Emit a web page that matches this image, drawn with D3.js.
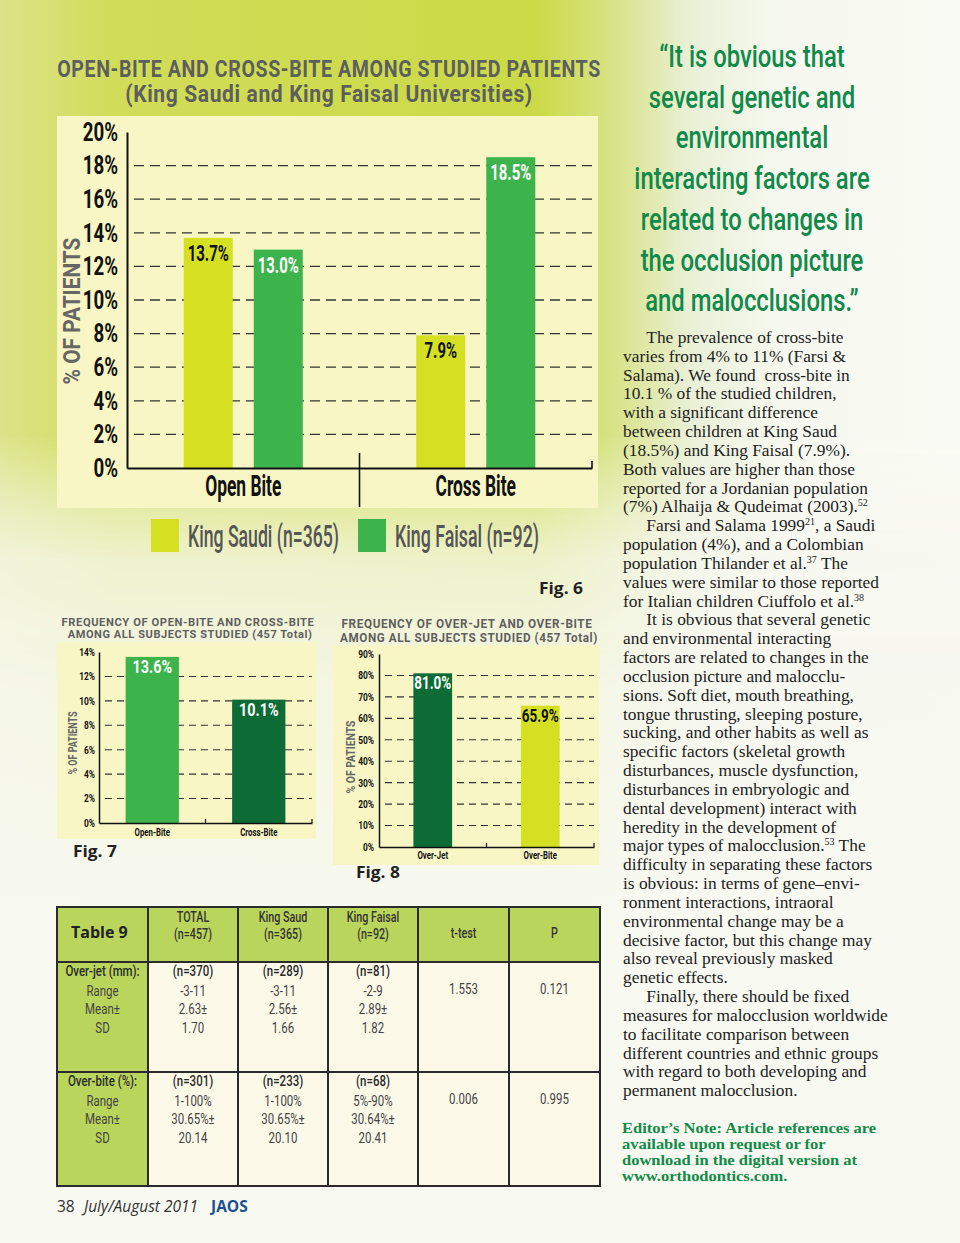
<!DOCTYPE html>
<html>
<head>
<meta charset="utf-8">
<script src="https://cdn.jsdelivr.net/npm/d3@7"></script>
<style>
  html, body { margin: 0; padding: 0; background: #fafbf6; }
  svg { display: block; }
</style>
</head>
<body>
<div id="page"></div>
<script>
// ---- data ----
const fig6Groups = ["Open Bite", "Cross Bite"];
const fig6Series = ["King Saudi (n=365)", "King Faisal (n=92)"];
const fig6KingSaudi = [13.7, 7.9];
const fig6KingFaisal = [13.0, 18.5];
const fig6Ticks = [0, 2, 4, 6, 8, 10, 12, 14, 16, 18, 20];

const fig7Categories = ["Open-Bite", "Cross-Bite"];
const fig7Values = [13.6, 10.1];
const fig7Ticks = [0, 2, 4, 6, 8, 10, 12, 14];

const fig8Categories = ["Over-Jet", "Over-Bite"];
const fig8Values = [81.0, 65.9];
const fig8Ticks = [0, 10, 20, 30, 40, 50, 60, 70, 80, 90];

const tableHeader = [["Table 9"], ["TOTAL", "(n=457)"], ["King Saud", "(n=365)"], ["King Faisal", "(n=92)"], ["t-test"], ["P"]];
const tableRowLabels = [["Over-jet (mm):", "Range", "Mean±", "SD"], ["Over-bite (%):", "Range", "Mean±", "SD"]];
const tableTotal = [["(n=370)", "-3-11", "2.63±", "1.70"], ["(n=301)", "1-100%", "30.65%±", "20.14"]];
const tableKingSaud = [["(n=289)", "-3-11", "2.56±", "1.66"], ["(n=233)", "1-100%", "30.65%±", "20.10"]];
const tableKingFaisal = [["(n=81)", "-2-9", "2.89±", "1.82"], ["(n=68)", "5%-90%", "30.64%±", "20.41"]];
const tableTTest = ["1.553", "0.006"];
const tableP = ["0.121", "0.995"];

const quoteLines = ["\u201cIt is obvious that", "several genetic and", "environmental", "interacting factors are",
  "related to changes in", "the occlusion picture", "and malocclusions.\u201d"];

// [text, indented]  ^..^ marks a superscript
const bodyLines = [
  ["The prevalence of cross-bite", 1], ["varies from 4% to 11% (Farsi &", 0], ["Salama). We found\u00a0 cross-bite in", 0],
  ["10.1 % of the studied children,", 0], ["with a significant difference", 0], ["between children at King Saud", 0],
  ["(18.5%) and King Faisal (7.9%).", 0], ["Both values are higher than those", 0], ["reported for a Jordanian population", 0],
  ["(7%) Alhaija & Qudeimat (2003).^52^", 0], ["Farsi and Salama 1999^21^, a Saudi", 1], ["population (4%), and a Colombian", 0],
  ["population Thilander et al.^37^ The", 0], ["values were similar to those reported", 0], ["for Italian children Ciuffolo et al.^38^", 0],
  ["It is obvious that several genetic", 1], ["and environmental interacting", 0], ["factors are related to changes in the", 0],
  ["occlusion picture and malocclu-", 0], ["sions. Soft diet, mouth breathing,", 0], ["tongue thrusting, sleeping posture,", 0],
  ["sucking, and other habits as well as", 0], ["specific factors (skeletal growth", 0], ["disturbances, muscle dysfunction,", 0],
  ["disturbances in embryologic and", 0], ["dental development) interact with", 0], ["heredity in the development of", 0],
  ["major types of malocclusion.^53^ The", 0], ["difficulty in separating these factors", 0], ["is obvious: in terms of gene\u2013envi-", 0],
  ["ronment interactions, intraoral", 0], ["environmental change may be a", 0], ["decisive factor, but this change may", 0],
  ["also reveal previously masked", 0], ["genetic effects.", 0], ["Finally, there should be fixed", 1],
  ["measures for malocclusion worldwide", 0], ["to facilitate comparison between", 0], ["different countries and ethnic groups", 0],
  ["with regard to both developing and", 0], ["permanent malocclusion.", 0]
];
const noteLines = ["Editor\u2019s Note: Article references are", "available upon request or for",
  "download in the digital version at", "www.orthodontics.com."];

// ---- styling ----
const YELLOW = "#d5e023", GREEN = "#3cb44b", DARK = "#0d6b36", PANEL = "#f8f6c4";
const GOTH = "Roboto, 'Liberation Sans', sans-serif";
const SERIF = "'Liberation Serif', 'DejaVu Serif', serif";
const SANS = "'Open Sans', 'Noto Sans', sans-serif";

const svg = d3.select("#page").append("svg").attr("width", 960).attr("height", 1243);

// page background: yellow-green wash across the top-left, fading right and down
const defs = svg.append("defs");
const wash = defs.append("linearGradient").attr("id", "wash")
  .attr("gradientUnits", "userSpaceOnUse").attr("x1", 0).attr("y1", 0).attr("x2", 960).attr("y2", 0);
[[0, "#dce38a"], [0.12, "#d1dc58"], [0.56, "#cbda46"], [0.64, "#d8e387"], [0.72, "#eaf0d8"], [0.82, "#f7f9f0"], [1, "#f9faf3"]]
  .forEach(s => wash.append("stop").attr("offset", s[0]).attr("stop-color", s[1]));
const fade = defs.append("linearGradient").attr("id", "fade")
  .attr("gradientUnits", "userSpaceOnUse").attr("x1", 0).attr("y1", 0).attr("x2", 0).attr("y2", 1243);
[[0, "#fff"], [0.35, "#fff"], [0.41, "#7a7a7a"], [0.45, "#3a3a3a"], [0.55, "#161616"], [0.75, "#000"]]
  .forEach(s => fade.append("stop").attr("offset", s[0]).attr("stop-color", s[1]));
defs.append("mask").attr("id", "fadeMask").append("rect")
  .attr("width", 960).attr("height", 1243).attr("fill", "url(#fade)");
svg.append("rect").attr("width", 960).attr("height", 1243).attr("fill", "#f8f9f1");
svg.append("rect").attr("width", 960).attr("height", 1243).attr("fill", "url(#wash)").attr("mask", "url(#fadeMask)");

// condensed text: a normal face squeezed horizontally
function gtext(parent, str, x, y, o = {}) {
  const t = parent.append("text")
    .attr("text-anchor", o.anchor || "start")
    .attr("font-family", o.family || GOTH)
    .attr("font-size", o.size || 14)
    .attr("font-weight", o.weight || 700)
    .attr("font-style", o.italic ? "italic" : null)
    .attr("letter-spacing", o.ls || null)
    .attr("fill", o.fill || "#111")
    .text(str);
  let sx = o.sx || 1;
  if (o.width) sx = o.width / t.node().getComputedTextLength();
  t.attr("transform", `translate(${x},${y})` + (o.rotate ? ` rotate(${o.rotate})` : "") + ` scale(${sx},1)`);
  return t;
}

function styleAxisText(axisG, size, sx, pad) {
  axisG.attr("font-family", null).attr("font-size", null);
  axisG.selectAll("text")
    .attr("font-family", GOTH).attr("font-size", size).attr("font-weight", 700).attr("fill", "#111")
    .attr("x", -pad / sx).attr("transform", `scale(${sx},1)`);
}

// ================= Fig. 6 =================
const f6 = svg.append("g");
gtext(f6, "OPEN-BITE AND CROSS-BITE AMONG STUDIED PATIENTS", 329, 77, { anchor: "middle", size: 23, fill: "#5e5e5e", width: 544, ls: "0.03em" });
gtext(f6, "(King Saudi and King Faisal Universities)", 329, 102, { anchor: "middle", size: 23, fill: "#5e5e5e", width: 408, ls: "0.03em" });
f6.append("rect").attr("x", 57).attr("y", 116).attr("width", 541).attr("height", 392).attr("fill", PANEL);

const y6 = d3.scaleLinear().domain([0, 20]).range([468, 132]);
const x6 = d3.scaleBand().domain(fig6Groups).range([127, 592]);
const x6s = d3.scaleBand().domain(fig6Series).range([0, x6.bandwidth()]).paddingInner(0.3).paddingOuter(0.81);
const color6 = d3.scaleOrdinal().domain(fig6Series).range([YELLOW, GREEN]);
const ink6 = d3.scaleOrdinal().domain(fig6Series).range(["#111", "#fff"]);

f6.selectAll("line.grid").data(fig6Ticks.filter(d => d > 0 && d < 20)).join("line")
  .attr("class", "grid").attr("x1", 134).attr("x2", 592)
  .attr("y1", d => y6(d)).attr("y2", d => y6(d))
  .attr("stroke", "#333").attr("stroke-width", 1.3).attr("stroke-dasharray", "10,6");

const rows6 = fig6Groups.map((g, i) => ({ group: g, values: [
  { series: fig6Series[0], value: fig6KingSaudi[i] },
  { series: fig6Series[1], value: fig6KingFaisal[i] }] }));

const grp6 = f6.selectAll("g.grp").data(rows6).join("g")
  .attr("class", "grp").attr("transform", d => `translate(${x6(d.group)},0)`);
grp6.selectAll("rect").data(d => d.values).join("rect")
  .attr("x", d => x6s(d.series)).attr("width", x6s.bandwidth())
  .attr("y", d => y6(d.value)).attr("height", d => y6(0) - y6(d.value))
  .attr("fill", d => color6(d.series));
grp6.each(function (row) {
  const g = d3.select(this);
  row.values.forEach(d => gtext(g, d3.format(".1f")(d.value) + "%", x6s(d.series) + x6s.bandwidth() / 2, y6(d.value) + 23,
    { anchor: "middle", size: 22, sx: 0.68, fill: ink6(d.series) }));
});

const yAx6 = f6.append("g").attr("transform", "translate(127,0)")
  .call(d3.axisLeft(y6).tickValues(fig6Ticks).tickFormat(d => d + "%").tickSize(0).tickSizeOuter(0));
yAx6.select(".domain").attr("stroke", "#111").attr("stroke-width", 2);
styleAxisText(yAx6, 26, 0.72, 9);

const xAx6 = f6.append("g").attr("transform", "translate(0,468)")
  .call(d3.axisBottom(x6).tickSize(0).tickSizeOuter(0));
xAx6.select(".domain").attr("stroke", "#111").attr("stroke-width", 2);
xAx6.attr("font-family", null).attr("font-size", null);
xAx6.selectAll("text").attr("y", 0).attr("dy", null)
  .attr("font-family", GOTH).attr("font-size", 29).attr("font-weight", 700).attr("fill", "#111")
  .attr("transform", "translate(0,28) scale(0.6,1)");
xAx6.append("line").attr("x1", x6(fig6Groups[1])).attr("x2", x6(fig6Groups[1]))
  .attr("y1", -15).attr("y2", 39).attr("stroke", "#111").attr("stroke-width", 1.6);
xAx6.append("line").attr("x1", x6.range()[1]).attr("x2", x6.range()[1])
  .attr("y1", -7).attr("y2", 0).attr("stroke", "#111").attr("stroke-width", 1.6);

gtext(f6, "% OF PATIENTS", 80, 311, { anchor: "middle", size: 24, fill: "#666", rotate: -90, width: 147 });

// legend
const leg6 = f6.selectAll("g.leg").data(fig6Series).join("g").attr("class", "leg")
  .attr("transform", (d, i) => `translate(${[151, 358][i]},519)`);
leg6.append("rect").attr("width", 28).attr("height", 33).attr("fill", d => color6(d));
leg6.each(function (d, i) {
  gtext(d3.select(this), d, 37, 28, { size: 31, weight: 500, fill: "#555", width: [151, 144][i] });
});
gtext(f6, "Fig. 6", 583, 594, { anchor: "end", family: SANS, size: 15.5, fill: "#222", width: 44 });

// ================= Fig. 7 / Fig. 8 =================
function smallChart(c) {
  const g = svg.append("g");
  c.title.forEach(t => gtext(g, t[0], t[1], t[2], { anchor: "middle", size: c.titleSize, fill: "#5f5f5f", width: t[3], ls: "0.05em" }));
  g.append("rect").attr("x", c.panel[0]).attr("y", c.panel[1]).attr("width", c.panel[2]).attr("height", c.panel[3]).attr("fill", PANEL);

  const top = d3.max(c.ticks);
  const y = d3.scaleLinear().domain([0, top]).range([c.yBottom, c.yTop]);
  const x = d3.scaleBand().domain(c.cats).range([c.xLeft, c.xRight]).paddingInner(c.padInner).paddingOuter(c.padOuter);

  g.selectAll("line.grid").data(c.ticks.filter(d => d > 0 && d < top)).join("line")
    .attr("class", "grid").attr("x1", c.xLeft + 6).attr("x2", c.xRight)
    .attr("y1", d => y(d)).attr("y2", d => y(d))
    .attr("stroke", "#333").attr("stroke-width", 1.1).attr("stroke-dasharray", "7,5");

  g.selectAll("rect.bar").data(c.vals).join("rect").attr("class", "bar")
    .attr("x", (d, i) => x(c.cats[i])).attr("width", x.bandwidth())
    .attr("y", d => y(d)).attr("height", d => y(0) - y(d))
    .attr("fill", (d, i) => c.colors[i]);
  c.vals.forEach((d, i) => gtext(g, d3.format(".1f")(d) + "%", x(c.cats[i]) + x.bandwidth() / 2, y(d) + 16,
    { anchor: "middle", size: 18, sx: c.valSx, fill: c.ink[i] }));

  const yAx = g.append("g").attr("transform", `translate(${c.xLeft},0)`)
    .call(d3.axisLeft(y).tickValues(c.ticks).tickFormat(d => d + "%").tickSize(0).tickSizeOuter(0));
  yAx.select(".domain").attr("stroke", "#111").attr("stroke-width", 1.5);
  styleAxisText(yAx, 10.5, 0.8, c.tickPad);

  const xAx = g.append("g").attr("transform", `translate(0,${c.yBottom})`)
    .call(d3.axisBottom(x).tickSize(0).tickSizeOuter(0));
  xAx.select(".domain").attr("stroke", "#111").attr("stroke-width", 1.5);
  xAx.attr("font-family", null).attr("font-size", null);
  xAx.selectAll("text").attr("y", 0).attr("dy", null)
    .attr("font-family", GOTH).attr("font-size", 10).attr("font-weight", 700).attr("fill", "#111")
    .attr("transform", `translate(0,${c.labelDy}) scale(0.78,1)`);
  const mid = x(c.cats[1]) - x.step() * c.padInner / 2;
  [mid, c.xRight].forEach(px => xAx.append("line").attr("x1", px).attr("x2", px)
    .attr("y1", -4).attr("y2", 0).attr("stroke", "#111").attr("stroke-width", 1.2));

  gtext(g, "% OF PATIENTS", c.yLabel[0], c.yLabel[1], { anchor: "middle", size: 12.5, fill: "#666", rotate: -90, width: c.yLabel[2] });
  gtext(g, c.fig[0], c.fig[1], c.fig[2], { family: SANS, size: 15.5, fill: "#222", width: 44 });
}

smallChart({
  cats: fig7Categories, vals: fig7Values, ticks: fig7Ticks, colors: [GREEN, DARK], ink: ["#fff", "#fff"],
  title: [["FREQUENCY OF OPEN-BITE AND CROSS-BITE", 188, 625.5, 253], ["AMONG ALL SUBJECTS STUDIED (457 Total)", 190, 638, 245]],
  titleSize: 10.5,
  panel: [57, 642, 259, 197], xLeft: 99, xRight: 312, yTop: 652, yBottom: 823, padInner: 0.5, padOuter: 0.25,
  valSx: 0.8, tickPad: 4, labelDy: 13, yLabel: [77, 743, 63], fig: ["Fig. 7", 73, 857]
});
smallChart({
  cats: fig8Categories, vals: fig8Values, ticks: fig8Ticks, colors: [DARK, YELLOW], ink: ["#fff", "#111"],
  title: [["FREQUENCY OF OVER-JET AND OVER-BITE", 467, 628, 251], ["AMONG ALL SUBJECTS STUDIED (457 Total)", 469, 642, 258]],
  titleSize: 12,
  panel: [333, 645, 266, 220], xLeft: 379, xRight: 594, yTop: 654, yBottom: 847, padInner: 0.64, padOuter: 0.32,
  valSx: 0.75, tickPad: 5, labelDy: 12, yLabel: [355, 757, 73], fig: ["Fig. 8", 356, 878]
});

// ================= Table 9 =================
const tab = svg.append("g");
const colX = [57, 148, 238, 328, 418, 509, 600];
const rowY = [907, 962, 1072, 1186];
const HEAD = "#bad55b", CELL = "#fcf9e9";
for (let r = 0; r < 3; r++) {
  for (let c = 0; c < 6; c++) {
    tab.append("rect").attr("x", colX[c]).attr("y", rowY[r])
      .attr("width", colX[c + 1] - colX[c]).attr("height", rowY[r + 1] - rowY[r])
      .attr("fill", r === 0 || c === 0 ? HEAD : CELL).attr("stroke", "#2b2b2b").attr("stroke-width", 2);
  }
}
const cx = c => (colX[c] + colX[c + 1]) / 2;
gtext(tab, tableHeader[0][0], 71, 938, { family: SANS, size: 16, fill: "#222", sx: 1 });
tableHeader.slice(1).forEach((h, i) => {
  if (h.length === 2) {
    gtext(tab, h[0], cx(i + 1), 922, { anchor: "middle", size: 14.5, weight: 500, fill: "#333", sx: 0.74 });
    gtext(tab, h[1], cx(i + 1), 939, { anchor: "middle", size: 14.5, weight: 500, fill: "#333", sx: 0.74 });
  } else {
    gtext(tab, h[0], cx(i + 1), 938, { anchor: "middle", size: 14.5, weight: 500, fill: "#333", sx: 0.74 });
  }
});
const lineOff = [14, 34, 52, 71];
const cols = [tableRowLabels, tableTotal, tableKingSaud, tableKingFaisal];
[0, 1].forEach(r => {
  const top = rowY[r + 1];
  cols.forEach((col, c) => {
    col[r].forEach((s, k) => gtext(tab, s, cx(c), top + lineOff[k],
      { anchor: "middle", size: 15.5, weight: k === 0 ? 500 : 400, fill: k === 0 ? "#2a2a2a" : "#444", sx: 0.74 }));
  });
  gtext(tab, tableTTest[r], cx(4), top + 32, { anchor: "middle", size: 15.5, weight: 400, fill: "#444", sx: 0.74 });
  gtext(tab, tableP[r], cx(5), top + 32, { anchor: "middle", size: 15.5, weight: 400, fill: "#444", sx: 0.74 });
});

// ================= right column =================
const col = svg.append("g");
quoteLines.forEach((s, i) => gtext(col, s, 752, 67 + i * 40.7, { anchor: "middle", size: 32, weight: 500, fill: "#10894a", sx: 0.745 }));

const body = col.append("g").attr("transform", "translate(623,0) scale(1.06,1)");
bodyLines.forEach((ln, i) => {
  const t = body.append("text").attr("x", ln[1] ? 22 : 0).attr("y", 343 + i * 18.83)
    .attr("font-family", SERIF).attr("font-size", 16.4).attr("fill", "#222");
  ln[0].split("^").forEach((part, k) => {
    if (!part) return;
    const sp = t.append("tspan").text(part);
    if (k % 2 === 1) sp.attr("font-size", 9.5).attr("dy", -6);
    else if (k > 0) sp.attr("dy", 6);
  });
});
const note = col.append("g").attr("transform", "translate(622,0) scale(1.1,1)");
noteLines.forEach((s, i) => note.append("text").attr("x", 0).attr("y", 1133 + i * 16)
  .attr("font-family", SERIF).attr("font-size", 15).attr("font-weight", 700).attr("fill", "#138a48").text(s));

// ================= footer =================
const foot = svg.append("g").attr("font-family", SANS).attr("font-size", 15.5).attr("fill", "#333");
foot.append("text").attr("x", 57).attr("y", 1212).text("38");
foot.append("text").attr("x", 84).attr("y", 1212).attr("font-style", "italic").text("July/August 2011");
foot.append("text").attr("x", 211).attr("y", 1212).attr("font-weight", 700).attr("fill", "#1b4f95").text("JAOS");
</script>
</body>
</html>
